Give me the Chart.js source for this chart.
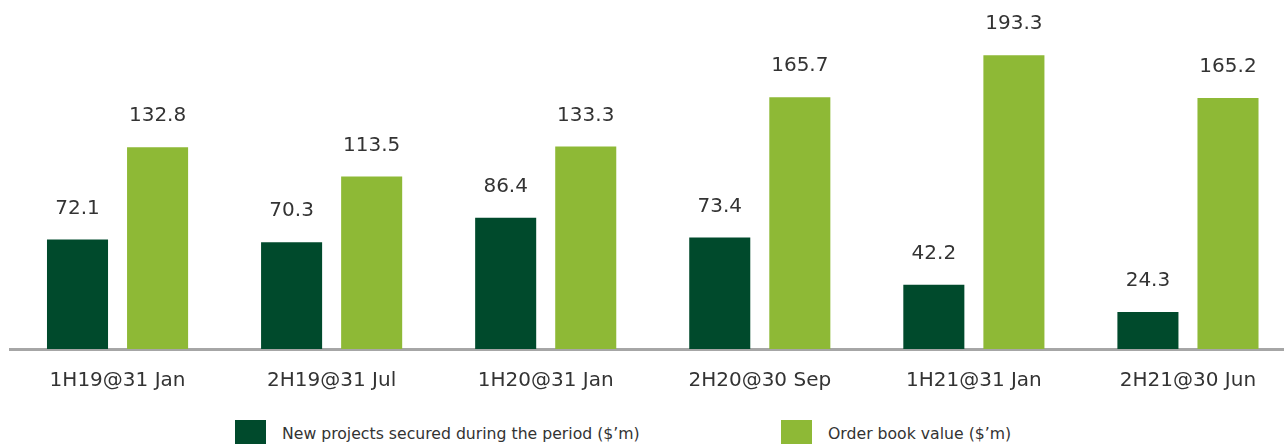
<!DOCTYPE html>
<html>
<head>
<meta charset="utf-8">
<script src="https://cdn.jsdelivr.net/npm/chart.js@4"></script>
<style>
  html, body { margin: 0; padding: 0; background: #fff; overflow: hidden; width: 1284px; height: 444px; }
  #wrap { position: absolute; left: 0; top: 0; width: 1295px; height: 400px; }
  .legend { position: absolute; top: 420px; font-family: "DejaVu Sans", sans-serif; font-size: 15.7px; color: #333; }
  .legend span.box { position: absolute; left: 0; top: 0; width: 31px; height: 24px; }
  .legend span.txt { position: absolute; left: 47px; top: 4px; white-space: nowrap; }
</style>
</head>
<body>
<div id="wrap"><canvas id="myChart"></canvas></div>
<div class="legend" id="leg1" style="left:235px"></div>
<div class="legend" id="leg2" style="left:781px"></div>
<script>
const categories = ['1H19@31 Jan', '2H19@31 Jul', '1H20@31 Jan', '2H20@30 Sep', '1H21@31 Jan', '2H21@30 Jun'];
const newProjects = [72.1, 70.3, 86.4, 73.4, 42.2, 24.3];
const orderBook = [132.8, 113.5, 133.3, 165.7, 193.3, 165.2];
const seriesNames = ["New projects secured during the period ($\u2019m)", "Order book value ($\u2019m)"];
const seriesColors = ['#004a2c', '#8eb936'];

// value labels above each bar
const valueLabels = {
    id: 'valueLabels',
    afterDatasetsDraw(chart) {
        const ctx = chart.ctx;
        ctx.save();
        ctx.font = '20px "DejaVu Sans"';
        ctx.fillStyle = '#333';
        ctx.textAlign = 'center';
        ctx.textBaseline = 'middle';
        chart.data.datasets.forEach((ds, i) => {
            chart.getDatasetMeta(i).data.forEach((bar, j) => {
                ctx.fillText(ds.data[j].toFixed(1), bar.x, bar.y - 31);
            });
        });
        ctx.restore();
    }
};

const ctx = document.getElementById('myChart');
let chart = new Chart(ctx, {
    type: 'bar',
    data: {
        labels: categories,
        datasets: [{
            label: seriesNames[0],
            data: newProjects,
            backgroundColor: seriesColors[0],
            categoryPercentage: 0.748,
            barPercentage: 0.7625
        }, {
            label: seriesNames[1],
            data: orderBook,
            backgroundColor: seriesColors[1],
            categoryPercentage: 0.748,
            barPercentage: 0.7625
        }]
    },
    options: {
        responsive: true,
        maintainAspectRatio: false,
        animation: false,
        layout: { padding: { left: 10.5, right: 0, top: 0, bottom: 0 } },
        scales: {
            x: {
                grid: { display: false, drawTicks: false },
                border: { color: '#a6a6a6', width: 3 },
                ticks: { color: '#333', font: { family: 'DejaVu Sans', size: 20 }, padding: 20 },
                afterFit: (scale) => { scale.height = 51; }
            },
            y: {
                display: false,
                min: 0,
                max: 229.6
            }
        },
        plugins: {
            legend: { display: false },
            title: { display: false },
            tooltip: { enabled: false }
        }
    },
    plugins: [valueLabels]
});

['leg1', 'leg2'].forEach((id, i) => {
    const el = document.getElementById(id);
    el.innerHTML = '<span class="box" style="background:' + seriesColors[i] + '"></span><span class="txt">' + seriesNames[i] + '</span>';
});
</script>
</body>
</html>
